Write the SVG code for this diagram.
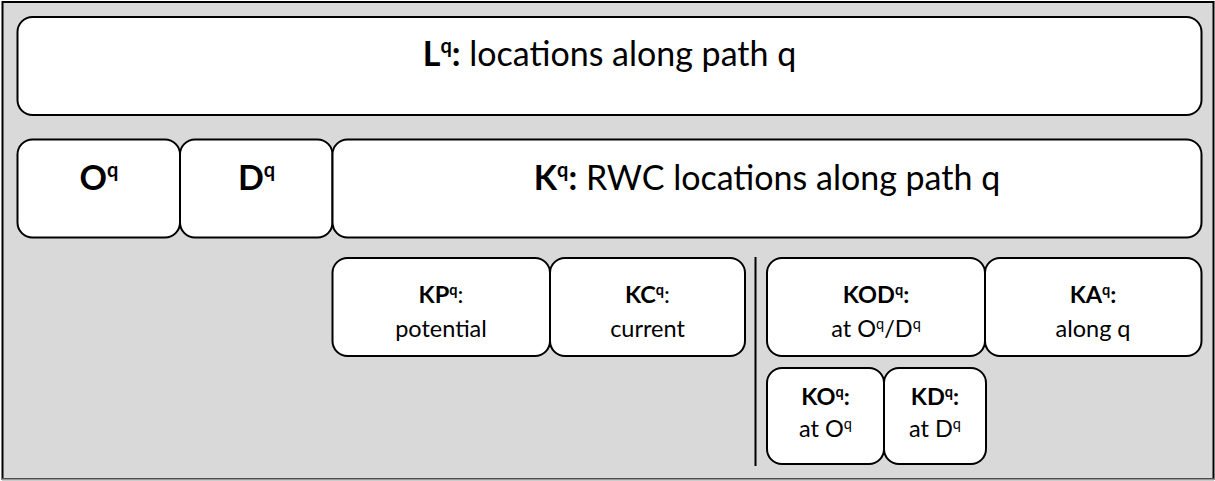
<svg xmlns="http://www.w3.org/2000/svg" width="1215" height="481" viewBox="0 0 1215 481">
  <style>
    .box { fill: #ffffff; stroke: #000000; stroke-width: 2; }
    .t { font-family: Lato, "Open Sans", "Liberation Sans", sans-serif; fill: #000000; text-anchor: middle; }
    .big { font-size: 34px; }
    .small { font-size: 23.5px; }
    .b { font-weight: bold; }
  </style>

  <!-- background panel -->
  <rect x="2.5" y="2" width="1211" height="477" fill="#d9d9d9" stroke="#000000" stroke-width="2"/>
  <line x1="2" y1="479.5" x2="1214" y2="479.5" stroke="#999999" stroke-width="2"/>

  <!-- separator between the two groups of K subsets -->
  <g id="connectors">
    <line x1="755.5" y1="257" x2="755.5" y2="466" stroke="#000000" stroke-width="2"/>
  </g>

  <g id="L">
    <rect class="box" x="17.5" y="17" width="1184" height="98" rx="15"/>
    <text class="t big" x="609.5" y="66"><tspan class="b">L<tspan dy="-13" font-size="20">q</tspan><tspan dy="13">:</tspan></tspan> locations along path q</text>
  </g>

  <g id="O">
    <rect class="box" x="17.5" y="139.5" width="162.5" height="98" rx="15"/>
    <text class="t big b" x="99" y="190">O<tspan dy="-13" font-size="20">q</tspan></text>
  </g>

  <g id="D">
    <rect class="box" x="180" y="139.5" width="152.5" height="98" rx="15"/>
    <text class="t big b" x="256.5" y="190">D<tspan dy="-13" font-size="20">q</tspan></text>
  </g>

  <g id="K">
    <rect class="box" x="332.5" y="139.5" width="869" height="98" rx="15"/>
    <text class="t big" x="767" y="190"><tspan class="b">K<tspan dy="-13" font-size="20">q</tspan><tspan dy="13">:</tspan></tspan> RWC locations along path q</text>
  </g>

  <g id="KP">
    <rect class="box" x="332.5" y="258" width="217.5" height="98" rx="15"/>
    <text class="t small" x="441" y="303"><tspan class="b">KP<tspan dy="-8.5" font-size="14.5">q</tspan></tspan><tspan dy="8.5">:</tspan></text>
    <text class="t small" x="441" y="337">potential</text>
  </g>

  <g id="KC">
    <rect class="box" x="550" y="258" width="195" height="98" rx="15"/>
    <text class="t small" x="647.5" y="303"><tspan class="b">KC<tspan dy="-8.5" font-size="14.5">q</tspan></tspan><tspan dy="8.5">:</tspan></text>
    <text class="t small" x="647.5" y="337">current</text>
  </g>

  <g id="KOD">
    <rect class="box" x="767" y="258" width="218" height="98" rx="15"/>
    <text class="t small b" x="876" y="303">KOD<tspan dy="-8.5" font-size="14.5">q</tspan><tspan dy="8.5">:</tspan></text>
    <text class="t small" x="876" y="337">at O<tspan dy="-8.5" font-size="14.5">q</tspan><tspan dy="8.5">/D</tspan><tspan dy="-8.5" font-size="14.5">q</tspan></text>
  </g>

  <g id="KA">
    <rect class="box" x="985" y="258" width="216.5" height="98" rx="15"/>
    <text class="t small b" x="1093" y="303">KA<tspan dy="-8.5" font-size="14.5">q</tspan><tspan dy="8.5">:</tspan></text>
    <text class="t small" x="1093" y="337">along q</text>
  </g>

  <g id="KO">
    <rect class="box" x="767" y="368" width="117" height="96" rx="15"/>
    <text class="t small b" x="825.5" y="405">KO<tspan dy="-8.5" font-size="14.5">q</tspan><tspan dy="8.5">:</tspan></text>
    <text class="t small" x="825.5" y="437">at O<tspan dy="-8.5" font-size="14.5">q</tspan></text>
  </g>

  <g id="KD">
    <rect class="box" x="884" y="368" width="102" height="96" rx="15"/>
    <text class="t small b" x="935" y="405">KD<tspan dy="-8.5" font-size="14.5">q</tspan><tspan dy="8.5">:</tspan></text>
    <text class="t small" x="935" y="437">at D<tspan dy="-8.5" font-size="14.5">q</tspan></text>
  </g>
</svg>
